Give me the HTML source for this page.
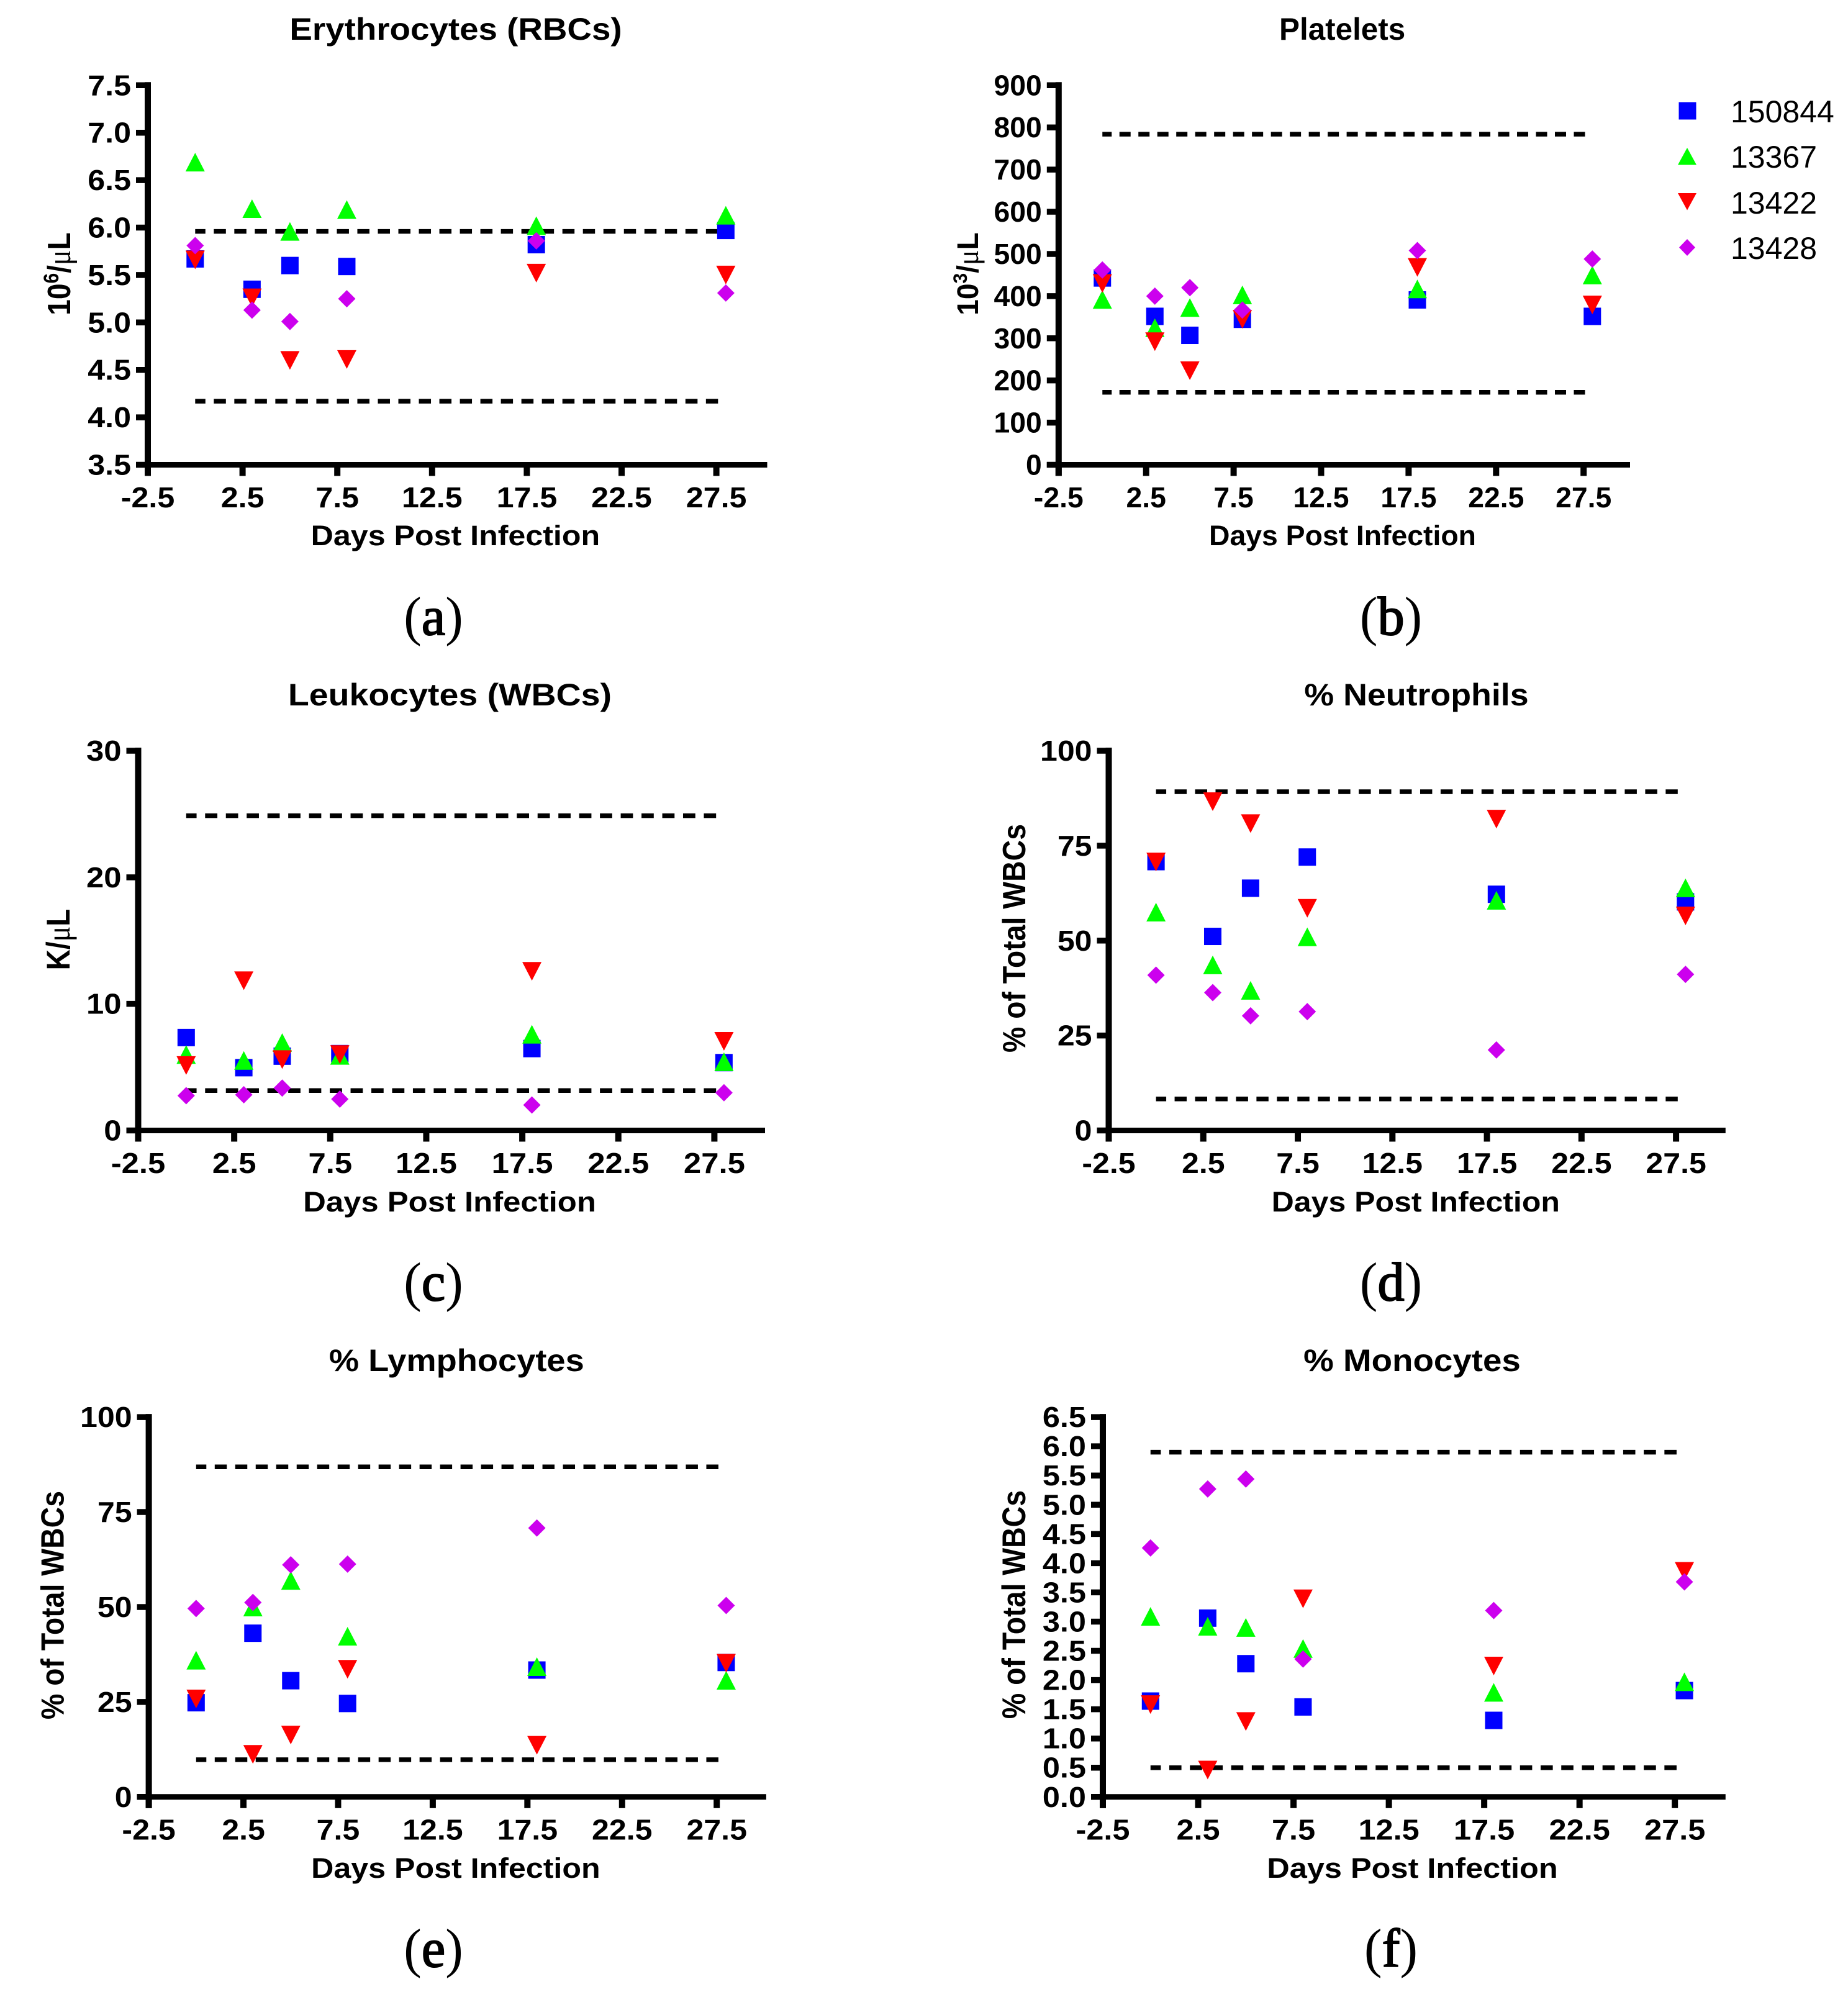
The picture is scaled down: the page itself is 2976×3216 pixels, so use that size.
<!DOCTYPE html>
<html lang="en">
<head>
<meta charset="utf-8">
<title>Hematology values after infection</title>
<style>
html,body{margin:0;padding:0;background:#fff;}
svg{display:block;}
text{font-family:"Liberation Sans",Arial,sans-serif;fill:#000;}
.title{font-size:50px;font-weight:bold;text-anchor:middle;}
.xlab{font-size:45px;font-weight:bold;text-anchor:middle;}
.ylab{font-size:46px;font-weight:bold;text-anchor:middle;}
.mu{font-family:"Liberation Serif",serif;font-weight:normal;}
.cap{font-family:"Liberation Serif",serif;font-size:88px;text-anchor:middle;}
.cap tspan{font-family:"Liberation Serif",serif;stroke:#000;stroke-width:2px;}
.leg{font-size:50px;}
</style>
</head>
<body>
<svg id="figure" xmlns="http://www.w3.org/2000/svg" width="2976" height="3216" viewBox="0 0 2976 3216">
  <rect x="0" y="0" width="2976" height="3216" fill="#fff"/>

  <text class="title" transform="translate(734,64) scale(1.095,1)">Erythrocytes (RBCs)</text>
  <text class="title" transform="translate(2161.6,64) scale(0.988,1)">Platelets</text>
  <text class="title" transform="translate(724.4,1136) scale(1.11,1)">Leukocytes (WBCs)</text>
  <text class="title" transform="translate(2281,1136) scale(1.075,1)">% Neutrophils</text>
  <text class="title" transform="translate(735.3,2208) scale(1.085,1)">% Lymphocytes</text>
  <text class="title" transform="translate(2274,2208) scale(1.095,1)">% Monocytes</text>

  <text class="xlab" transform="translate(733.4,878) scale(1.115,1)">Days Post Infection</text>
  <text class="xlab" transform="translate(2162,878) scale(1.03,1)">Days Post Infection</text>
  <text class="xlab" transform="translate(724,1951) scale(1.13,1)">Days Post Infection</text>
  <text class="xlab" transform="translate(2279.8,1951) scale(1.112,1)">Days Post Infection</text>
  <text class="xlab" transform="translate(733.9,3024) scale(1.115,1)">Days Post Infection</text>
  <text class="xlab" transform="translate(2274.5,3024) scale(1.122,1)">Days Post Infection</text>

  <text class="ylab" transform="translate(113,441) rotate(-90) scale(1,1.13)">10<tspan font-size="30" dy="-17">6</tspan><tspan dy="17">/</tspan><tspan class="mu">μ</tspan>L</text>
  <text class="ylab" transform="translate(1575,441) rotate(-90) scale(1,1.05)">10<tspan font-size="30" dy="-17">3</tspan><tspan dy="17">/</tspan><tspan class="mu">μ</tspan>L</text>
  <text class="ylab" transform="translate(112,1513) rotate(-90) scale(1,1.14)">K/<tspan class="mu">μ</tspan>L</text>
  <text class="ylab" transform="translate(1651,1511) rotate(-90) scale(1.01,1.13)">% of Total WBCs</text>
  <text class="ylab" transform="translate(102.5,2585) rotate(-90) scale(1.01,1.13)">% of Total WBCs</text>
  <text class="ylab" transform="translate(1651,2584) rotate(-90) scale(1.01,1.14)">% of Total WBCs</text>

  <text class="cap" transform="translate(698,1022) scale(0.98,1)">(<tspan>a</tspan>)</text>
  <text class="cap" transform="translate(2240,1022) scale(0.98,1)">(<tspan>b</tspan>)</text>
  <text class="cap" transform="translate(698,2094) scale(0.98,1)">(<tspan>c</tspan>)</text>
  <text class="cap" transform="translate(2240,2094) scale(0.98,1)">(<tspan>d</tspan>)</text>
  <text class="cap" transform="translate(698,3167) scale(0.98,1)">(<tspan>e</tspan>)</text>
  <text class="cap" transform="translate(2240,3167) scale(0.98,1)">(<tspan>f</tspan>)</text>

  <g>
    <rect x="2703.5" y="164.5" width="28" height="28" fill="#0000ff"/>
    <text class="leg" x="2787" y="197">150844</text>
    <polygon points="2717,238 2732,265.5 2702,265.5" fill="#00ff00"/>
    <text class="leg" x="2787" y="270">13367</text>
    <polygon points="2702,311 2732,311 2717,338.5" fill="#ff0000"/>
    <text class="leg" x="2787" y="344">13422</text>
    <polygon points="2717,385 2730,398.5 2717,412 2704,398.5" fill="#cc00ee"/>
    <text class="leg" x="2787" y="417">13428</text>
  </g>
</svg>
<script>
const days = [0, 3, 5, 8, 18, 28];
const xTickLabels = ['-2.5', '2.5', '7.5', '12.5', '17.5', '22.5', '27.5'];
const rangeDays = [0, 27.7];
const seriesNames = ['150844', '13367', '13422', '13428'];

const rbcTicks = ['3.5', '4.0', '4.5', '5.0', '5.5', '6.0', '6.5', '7.0', '7.5'];
const rbcRange = [4.17, 5.96];
const rbc150844 = [5.67, 5.35, 5.60, 5.59, 5.82, 5.97];
const rbc13367 = [6.69, 6.20, 5.96, 6.19, 6.02, 6.13];
const rbc13422 = [5.66, 5.26, 4.60, 4.61, 5.52, 5.50];
const rbc13428 = [5.81, 5.13, 5.01, 5.25, 5.86, 5.31];

const pltTicks = ['0', '100', '200', '300', '400', '500', '600', '700', '800', '900'];
const pltRange = [172, 784];
const plt150844 = [443, 352, 307, 345, 391, 352];
const plt13367 = [392, 325, 373, 403, 417, 450];
const plt13422 = [430, 292, 223, 345, 468, 379];
const plt13428 = [462, 400, 420, 367, 508, 488];

const wbcTicks = ['0', '10', '20', '30'];
const wbcRange = [3.15, 24.87];
const wbc150844 = [7.34, 4.96, 5.87, 6.07, 6.47, 5.36];
const wbc13367 = [6.0, 5.53, 6.94, 5.93, 7.6, 5.43];
const wbc13422 = [5.13, 11.83, 5.6, 6.0, 12.57, 7.04];
const wbc13428 = [2.75, 2.82, 3.35, 2.48, 2.01, 2.98];

const pctTicks = ['0', '25', '50', '75', '100'];

const neuRange = [8.3, 89.2];
const neu150844 = [70.8, 51.1, 63.8, 72, 62.2, 60.2];
const neu13367 = [57.5, 43.6, 36.9, 51, 60.6, 63.9];
const neu13422 = [70.7, 86.6, 80.8, 58.5, 82, 56.5];
const neu13428 = [40.9, 36.3, 30.2, 31.3, 21.2, 41.1];

const lymRange = [9.8, 86.9];
const lym150844 = [24.8, 43.1, 30.6, 24.6, 33.4, 35.4];
const lym13367 = [36, 50, 57, 42.3, 34.3, 30.7];
const lym13422 = [25.8, 11.2, 16.3, 33.6, 13.6, 35.2];
const lym13428 = [49.6, 51.2, 61.1, 61.3, 70.8, 50.4];

const monTicks = ['0.0', '0.5', '1.0', '1.5', '2.0', '2.5', '3.0', '3.5', '4.0', '4.5', '5.0', '5.5', '6.0', '6.5'];
const monRange = [0.5, 5.9];
const mon150844 = [1.64, 3.06, 2.28, 1.54, 1.31, 1.82];
const mon13367 = [3.09, 2.92, 2.90, 2.54, 1.79, 1.97];
const mon13422 = [1.58, 0.46, 1.29, 3.39, 2.24, 3.86];
const mon13428 = [4.26, 5.27, 5.44, 2.36, 3.19, 3.68];

const panels = [
  {id: 'erythrocytes', x0: 238, x1: 1153.6, right: 1235.5, yTop: 137.3, yBot: 748.5, ticks: rbcTicks, range: rbcRange, data: [rbc150844, rbc13367, rbc13422, rbc13428]},
  {id: 'platelets', x0: 1704.8, x1: 2550.2, right: 2625, yTop: 137.3, yBot: 748.5, ticks: pltTicks, range: pltRange, data: [plt150844, plt13367, plt13422, plt13428]},
  {id: 'leukocytes', x0: 222.5, x1: 1150.4, right: 1232, yTop: 1209, yBot: 1820.5, ticks: wbcTicks, range: wbcRange, data: [wbc150844, wbc13367, wbc13422, wbc13428]},
  {id: 'neutrophils', x0: 1785.5, x1: 2699.1, right: 2778.8, yTop: 1209, yBot: 1820.5, ticks: pctTicks, range: neuRange, data: [neu150844, neu13367, neu13422, neu13428]},
  {id: 'lymphocytes', x0: 239.6, x1: 1154.2, right: 1233.9, yTop: 2282.1, yBot: 2893.8, ticks: pctTicks, range: lymRange, data: [lym150844, lym13367, lym13422, lym13428]},
  {id: 'monocytes', x0: 1776, x1: 2697.2, right: 2778.8, yTop: 2282.1, yBot: 2893.8, ticks: monTicks, range: monRange, data: [mon150844, mon13367, mon13422, mon13428]}
];

const NS = 'http://www.w3.org/2000/svg';
const root = document.getElementById('figure');
const colors = ['#0000ff', '#00ff00', '#ff0000', '#cc00ee'];

function mk(tag, attrs, parent) {
  const node = document.createElementNS(NS, tag);
  for (const k in attrs) node.setAttribute(k, attrs[k]);
  parent.appendChild(node);
  return node;
}

function drawMarker(kind, cx, cy, parent) {
  const sq = 14, hw = 15.5, hh = 15, dw = 14, dh = 14;
  if (kind === 0) {
    return mk('rect', {x: cx - sq, y: cy - sq, width: 2 * sq, height: 2 * sq, fill: colors[0]}, parent);
  }
  if (kind === 1) {
    return mk('polygon', {points: [cx, cy - hh, cx + hw, cy + hh, cx - hw, cy + hh].join(' '), fill: colors[1]}, parent);
  }
  if (kind === 2) {
    return mk('polygon', {points: [cx - hw, cy - hh, cx + hw, cy - hh, cx, cy + hh].join(' '), fill: colors[2]}, parent);
  }
  return mk('polygon', {points: [cx, cy - dh, cx + dw, cy, cx, cy + dh, cx - dw, cy].join(' '), fill: colors[3]}, parent);
}

panels.forEach(function (p) {
  const values = p.ticks.map(Number);
  const yMin = values[0];
  const yMax = values[values.length - 1];
  const unit = (p.x1 - p.x0) / 30;
  const ratio = unit / 30.5;
  const X = function (d) { return p.x0 + (d + 2.5) * unit; };
  const Y = function (v) { return p.yBot - (v - yMin) * (p.yBot - p.yTop) / (yMax - yMin); };

  const g = mk('g', {}, root);
  
  

  const yAxis = mk('line', {x1: p.x0, x2: p.x0, y1: p.yTop - 5, y2: p.yBot + 18, stroke: '#000', 'stroke-width': 10}, g);
  
  

  const xAxis = mk('line', {x1: p.x0 - 19, x2: p.right, y1: p.yBot, y2: p.yBot, stroke: '#000', 'stroke-width': 9}, g);
  
  

  p.ticks.forEach(function (label) {
    const ty = Y(Number(label));
    const tick = mk('line', {x1: p.x0 - 19, x2: p.x0, y1: ty, y2: ty, stroke: '#000', 'stroke-width': 9.5}, g);
    
    
    const txt = mk('text', {transform: 'translate(' + (p.x0 - 27) + ',' + (ty + 16) + ') scale(' + (1.09 * ratio) + ',1)', 'font-size': 46, 'font-weight': 'bold', 'text-anchor': 'end'}, g);
    txt.textContent = label;
    
    
  });

  xTickLabels.forEach(function (label) {
    const tx = X(Number(label));
    const tick = mk('line', {x1: tx, x2: tx, y1: p.yBot, y2: p.yBot + 18, stroke: '#000', 'stroke-width': 10}, g);
    
    
    const txt = mk('text', {transform: 'translate(' + tx + ',' + (p.yBot + 68.5) + ') scale(' + (1.09 * ratio) + ',1)', 'font-size': 46, 'font-weight': 'bold', 'text-anchor': 'middle'}, g);
    txt.textContent = label;
    
    
  });

  p.range.forEach(function (v, i) {
    const period = 33 * ratio;
    const dash = mk('line', {x1: X(rangeDays[0]), x2: X(rangeDays[1]), y1: Y(v), y2: Y(v), stroke: '#000', 'stroke-width': 7.5, 'stroke-dasharray': (period * 0.59) + ' ' + (period * 0.41), 'stroke-dashoffset': 3}, g);
    
    
  });

  p.data.forEach(function (vals, s) {
    vals.forEach(function (v, i) {
      const m = drawMarker(s, X(days[i]), Y(v), g);
      
      
    });
  });
});
</script>
</body>
</html>
